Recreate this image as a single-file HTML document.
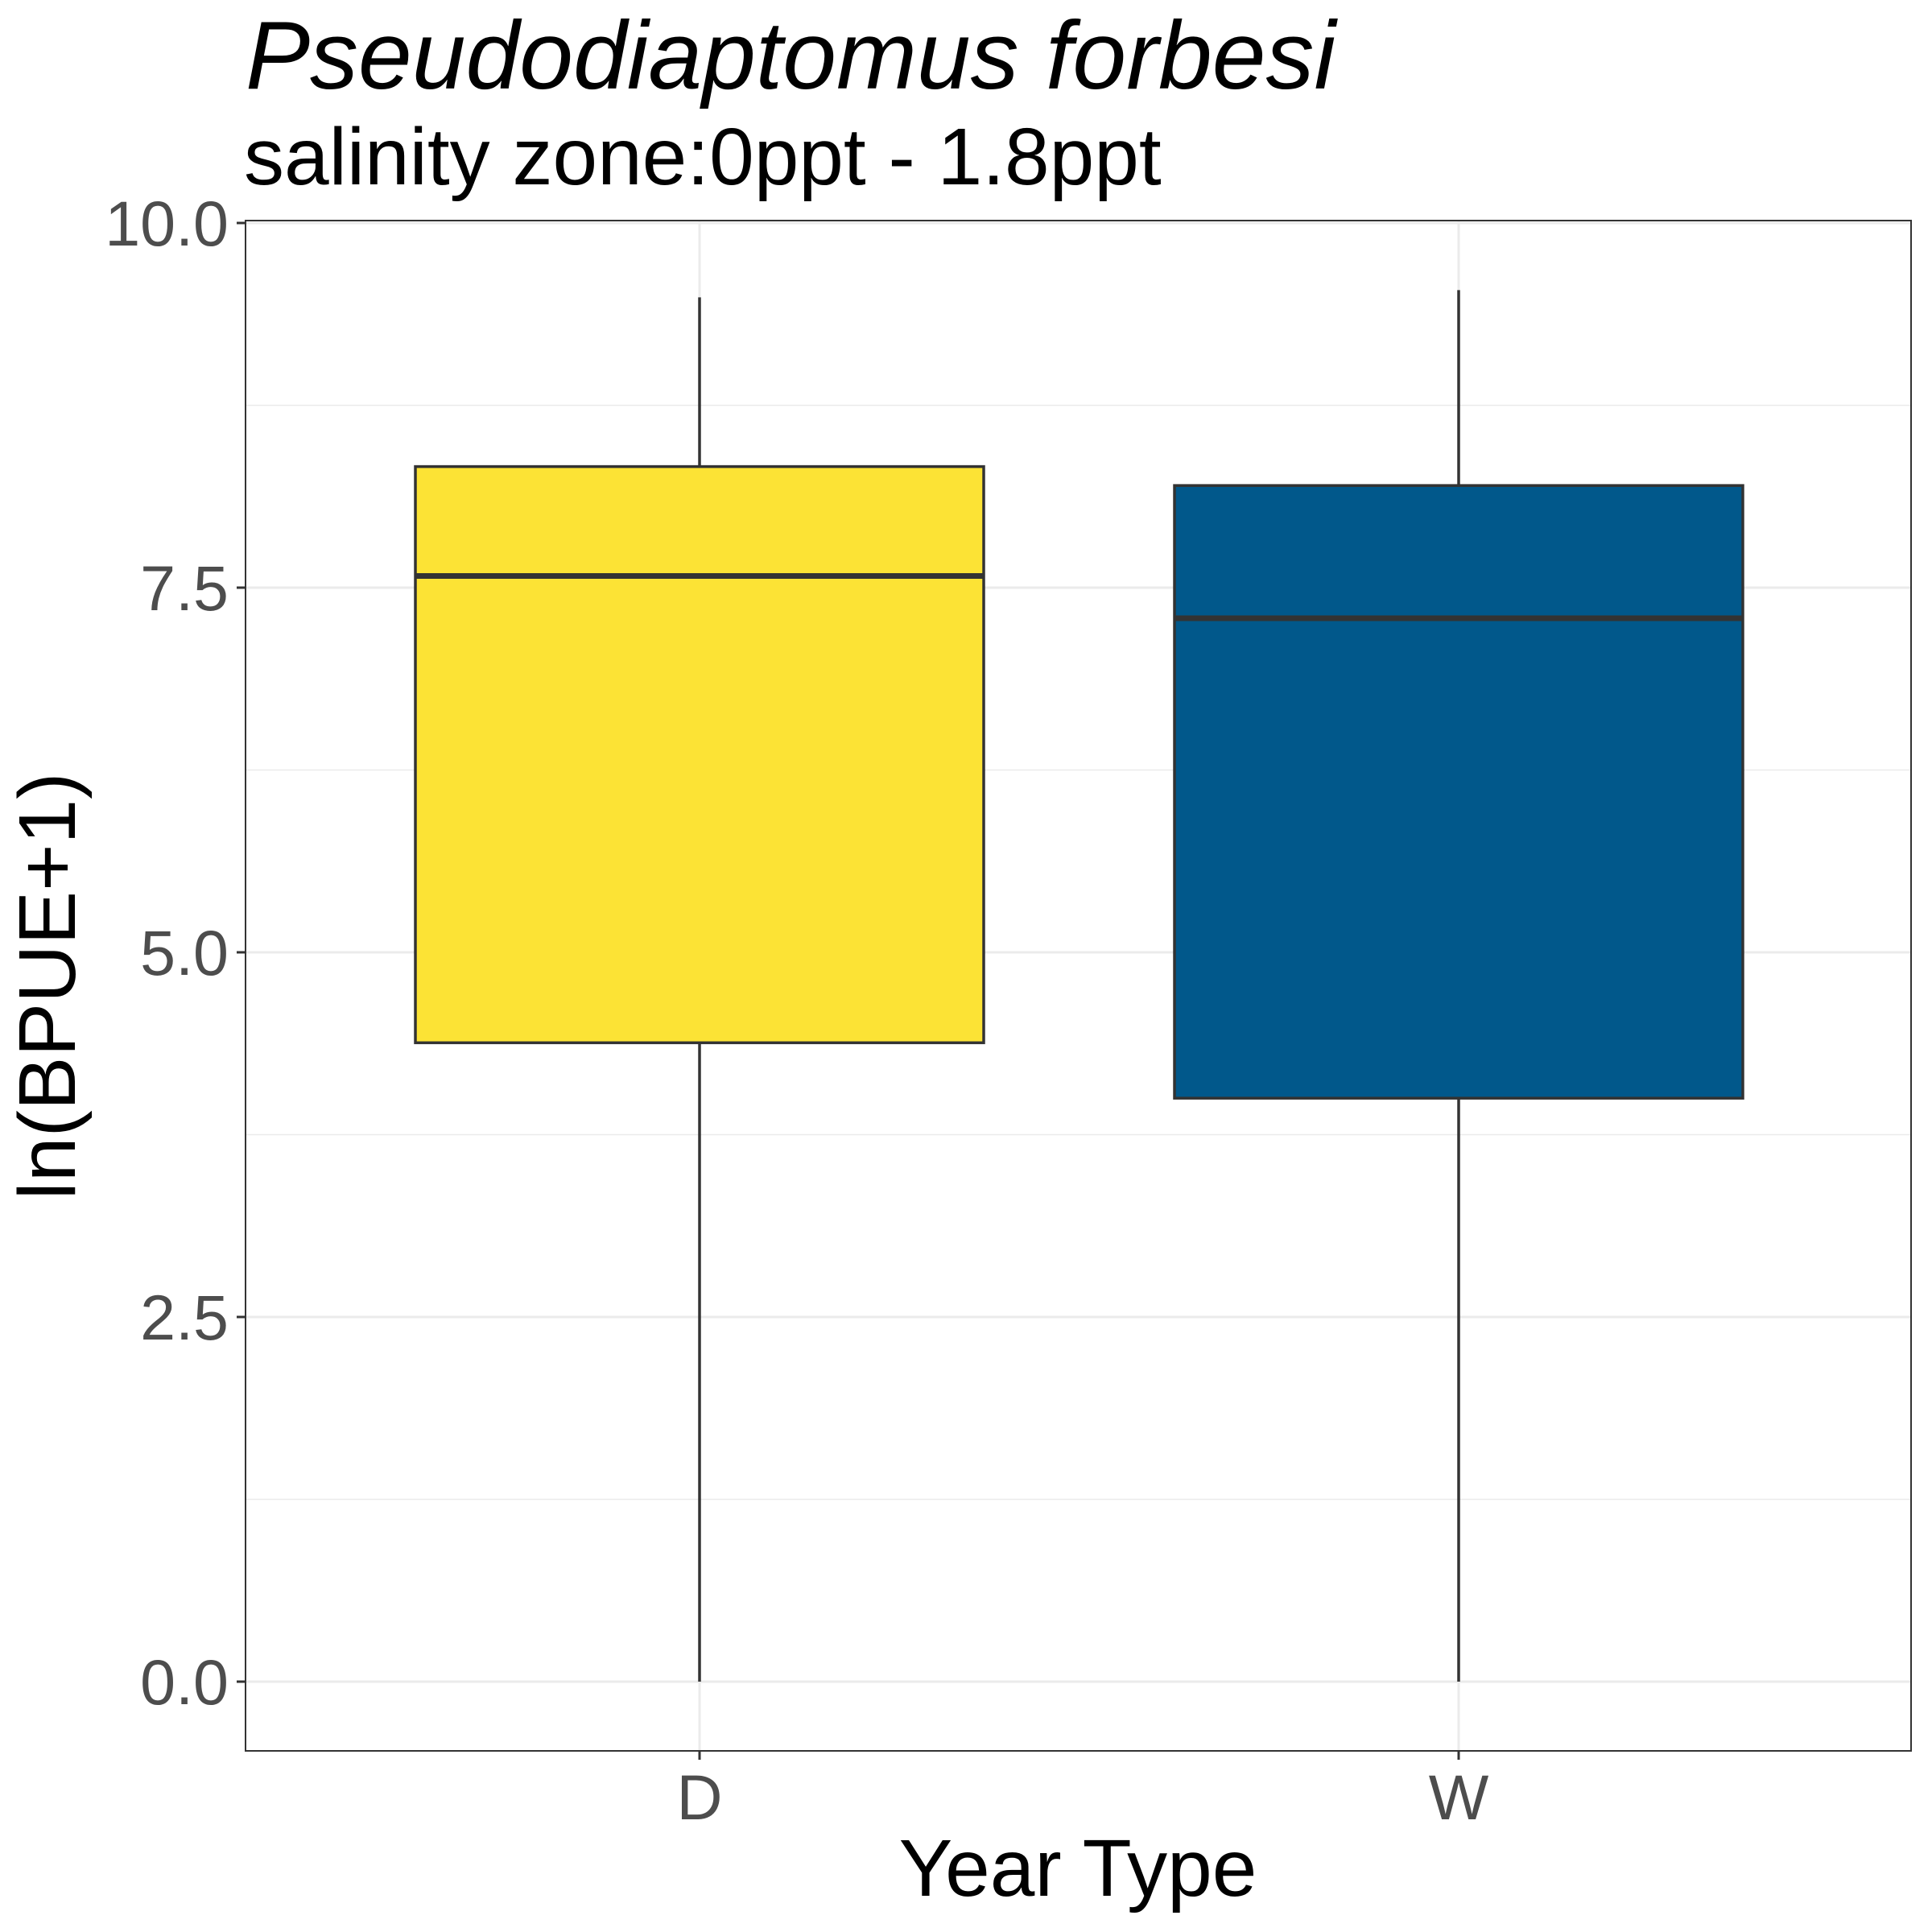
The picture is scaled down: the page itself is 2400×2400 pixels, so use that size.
<!DOCTYPE html>
<html><head><meta charset="utf-8"><style>
html,body{margin:0;padding:0;background:#fff}
svg{display:block;font-family:"Liberation Sans",Arial,sans-serif}
</style></head><body>
<svg id="chart" width="2400" height="2400" viewBox="0 0 2400 2400">
<rect x="0" y="0" width="2400" height="2400" fill="#fff"/>
<text x="305" y="110" font-size="120" font-style="italic" fill="#000">Pseudodiaptomus forbesi</text>
<text x="303" y="229" font-size="100" fill="#000">salinity zone:0ppt - 1.8ppt</text>
<g id="grid"></g>
<g id="boxes"></g>
<rect x="305" y="274" width="2069" height="1901" fill="none" stroke="#333" stroke-width="2"/>
<g id="axes"></g>
<text x="1339" y="2355" font-size="100" text-anchor="middle" fill="#000">Year Type</text>
<text transform="translate(93,1225) rotate(-90)" font-size="100" text-anchor="middle" fill="#000">ln(BPUE+1)</text>
</svg>
<script>
const categories = ["D","W"];
const fills = ["#FCE335","#01588B"];
const whiskerLow = [0, 0];
const q1 = [4.38, 4.0];
const median = [7.58, 7.29];
const q3 = [8.33, 8.20];
const whiskerHigh = [9.49, 9.54];
const yTicks = [0, 2.5, 5, 7.5, 10];
const yTickLabels = ["0.0","2.5","5.0","7.5","10.0"];
const yMinor = [1.25, 3.75, 6.25, 8.75];

const NS="http://www.w3.org/2000/svg";
const pL=305,pR=2374,pT=274,pB=2175;
function y(v){return 2089 - v*181.2;}
function x(i){return 869 + i*943;}
const halfW=353;
function mk(tag,attrs,parent){const e=document.createElementNS(NS,tag);for(const k in attrs)e.setAttribute(k,attrs[k]);parent.appendChild(e);return e;}
const grid=document.getElementById('grid'),boxes=document.getElementById('boxes'),axes=document.getElementById('axes');
yMinor.forEach(v=>{const l=mk('line',{x1:pL,x2:pR,y1:y(v),y2:y(v),stroke:'#ebebeb','stroke-width':1.5},grid);

});
yTicks.forEach((v,i)=>{const l=mk('line',{x1:pL,x2:pR,y1:y(v),y2:y(v),stroke:'#ebebeb','stroke-width':3},grid);


const t=mk('line',{x1:pL-11,x2:pL,y1:y(v),y2:y(v),stroke:'#333','stroke-width':3},axes);


const tx=mk('text',{x:284,y:y(v)+28,'font-size':79,'text-anchor':'end',fill:'#4d4d4d'},axes);
tx.textContent=yTickLabels[i];

});
categories.forEach((c,i)=>{const cx=x(i);
const g=mk('line',{x1:cx,x2:cx,y1:pT,y2:pB,stroke:'#ebebeb','stroke-width':3},grid);


const w1=mk('line',{x1:cx,x2:cx,y1:y(whiskerHigh[i]),y2:y(q3[i]),stroke:'#333','stroke-width':3.5},boxes);


const w2=mk('line',{x1:cx,x2:cx,y1:y(q1[i]),y2:y(whiskerLow[i]),stroke:'#333','stroke-width':3.5},boxes);


const r=mk('rect',{x:cx-halfW,y:y(q3[i]),width:2*halfW,height:y(q1[i])-y(q3[i]),fill:fills[i],stroke:'#333','stroke-width':3.5},boxes);


const m=mk('line',{x1:cx-halfW,x2:cx+halfW,y1:y(median[i]),y2:y(median[i]),stroke:'#333','stroke-width':7},boxes);


const t=mk('line',{x1:cx,x2:cx,y1:pB,y2:pB+11,stroke:'#333','stroke-width':3},axes);


const tx=mk('text',{x:cx,y:2260,'font-size':79,'text-anchor':'middle',fill:'#4d4d4d'},axes);
tx.textContent=c;

});
</script>
</body></html>
